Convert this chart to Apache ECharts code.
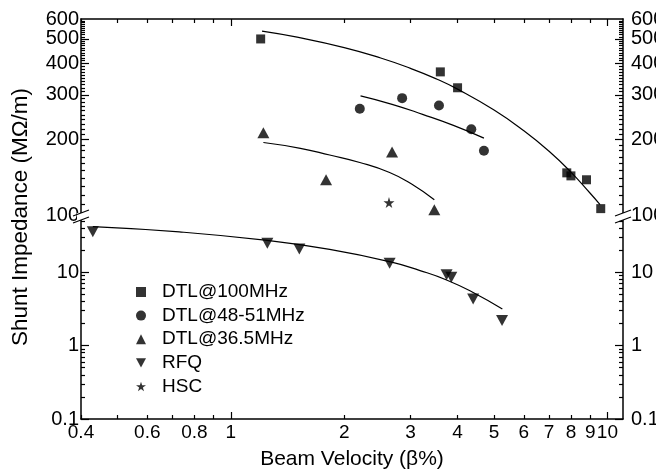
<!DOCTYPE html>
<html>
<head>
<meta charset="utf-8">
<script src="https://cdn.jsdelivr.net/npm/echarts@6/dist/echarts.min.js"></script>
<style>
  html, body { margin: 0; padding: 0; background: #fff; }
  #chart { width: 656px; height: 476px; }
</style>
</head>
<body>
<div id="chart"></div>
<script>
// 测量点：束流速度 (β%) 与分路阻抗 (MΩ/m)
const dtl100X = [1.2, 3.6, 4.0, 7.8, 8.0, 8.8, 9.6];
const dtl100Y = [500, 370, 320, 147, 143, 138, 106];
const dtl48X = [2.2, 2.85, 3.57, 4.35, 4.7];
const dtl48Y = [264, 291, 272, 219, 180];
const dtl36X = [1.22, 1.79, 2.68, 3.47];
const dtl36Y = [212, 138, 178, 105];
const rfqX = [0.43, 1.25, 1.52, 2.64, 3.74, 3.85, 4.4, 5.25];
const rfqY = [35.6, 24.8, 20.7, 13.2, 9.2, 8.5, 4.3, 2.2];
const hscX = [2.63];
const hscY = [112];

// 拟合曲线（沿图中曲线读取的点）
const fit100X = [1.21, 1.5, 2, 2.5, 3, 3.5, 4, 5, 6, 7, 8, 9, 9.56];
const fit100Y = [537, 508, 462, 420, 382, 348, 316, 261, 216, 179, 148, 122, 110];
const fit48X = [2.21, 2.68, 3.23, 3.9, 4.7];
const fit48Y = [297, 275, 251, 227, 202];
const fit36X = [1.22, 1.53, 1.83, 2.2, 2.64, 3.02, 3.47];
const fit36Y = [194, 184, 173, 161.6, 147.5, 132.7, 114.9];
const fitRfqX = [0.43, 0.73, 1.25, 1.83, 2.64, 3.18, 3.74, 4.4, 5.26];
const fitRfqY = [41.7, 35.3, 27.0, 20.4, 13.9, 10.5, 7.83, 5.29, 3.15];

// 坐标轴刻度
const xRange = [0.4, 11];
const xMajorTicks = [1, 10];
const xMinorTicks = [0.4, 0.5, 0.6, 0.7, 0.8, 0.9, 2, 3, 4, 5, 6, 7, 8, 9];
const xTickLabels = [0.4, 0.6, 0.8, 1, 2, 3, 4, 5, 6, 7, 8, 9, 10];
const upperRange = [100, 600];
const upperMajorTicks = [200, 300, 400, 500];
const upperTickLabels = [100, 200, 300, 400, 500, 600];
const lowerRange = [0.1, 60];
const lowerMajorTicks = [0.1, 1, 10];
const lowerMinorTicks = [0.2, 0.3, 0.4, 0.5, 0.6, 0.7, 0.8, 0.9, 2, 3, 4, 5, 6, 7, 8, 9, 20, 30, 40, 50];
const lowerTickLabels = [0.1, 1, 10];

const upperMinorTicks = []
for (let v = 110; v < 600; v += 10) {
  if (v % 100 !== 0) upperMinorTicks.push(v)
}

const FONT = 'Liberation Sans, Arial, Helvetica, sans-serif'
const lg = v => Math.log10(v)
const pts = (xs, ys) => xs.map((x, i) => [lg(x), lg(ys[i])])
const fmt = v => String(+Math.pow(10, v).toPrecision(6))

// 绘图区布局
const plotLeft = 81
const plotRight = 623
const plotTop = 19
const breakY = 215
const plotBottom = 419

const chart = echarts.init(document.getElementById('chart'))

// 生成一根轴：minor 负责轴线+短刻度，major 负责长刻度+标签
const makeAxis = opts => ({
  type: 'value',
  gridIndex: opts.grid,
  position: opts.position,
  min: lg(opts.range[0]),
  max: lg(opts.range[1]),
  splitLine: { show: false },
  axisLine: { show: opts.line, onZero: false, lineStyle: { color: '#000', width: 1.5 } },
  axisTick: {
    show: true,
    inside: true,
    length: opts.tickLen,
    customValues: opts.ticks.map(lg),
    lineStyle: { color: '#000', width: 1.2 }
  },
  axisLabel: opts.labels
    ? {
        show: true,
        customValues: opts.labels.map(lg),
        formatter: fmt,
        color: '#000',
        fontSize: opts.fontSize || 19,
        fontFamily: FONT,
        margin: opts.margin
      }
    : { show: false },
  name: opts.name || '',
  nameLocation: 'middle',
  nameGap: opts.nameGap || 0,
  nameTextStyle: { color: '#000', fontSize: 21, fontFamily: FONT }
})

const xAxis = [
  makeAxis({ grid: 0, position: 'top', range: xRange, line: true, tickLen: 4, ticks: xMinorTicks }),
  makeAxis({ grid: 0, position: 'top', range: xRange, line: false, tickLen: 7, ticks: xMajorTicks }),
  makeAxis({ grid: 1, position: 'bottom', range: xRange, line: true, tickLen: 4, ticks: xMinorTicks }),
  makeAxis({
    grid: 1, position: 'bottom', range: xRange, line: false, tickLen: 7, ticks: xMajorTicks,
    labels: xTickLabels, margin: 4, name: 'Beam Velocity (\u03b2%)', nameGap: 30
  })
]

const yAxis = [
  makeAxis({ grid: 0, position: 'left', range: upperRange, line: true, tickLen: 4, ticks: upperMinorTicks }),
  makeAxis({ grid: 0, position: 'left', range: upperRange, line: false, tickLen: 8, ticks: upperMajorTicks, labels: upperTickLabels, margin: 2, fontSize: 20 }),
  makeAxis({ grid: 0, position: 'right', range: upperRange, line: true, tickLen: 4, ticks: upperMinorTicks }),
  makeAxis({ grid: 0, position: 'right', range: upperRange, line: false, tickLen: 8, ticks: upperMajorTicks, labels: upperTickLabels, margin: 8, fontSize: 20 }),
  makeAxis({ grid: 1, position: 'left', range: lowerRange, line: true, tickLen: 4, ticks: lowerMinorTicks }),
  makeAxis({ grid: 1, position: 'left', range: lowerRange, line: false, tickLen: 8, ticks: lowerMajorTicks, labels: lowerTickLabels, margin: 2, fontSize: 20 }),
  makeAxis({ grid: 1, position: 'right', range: lowerRange, line: true, tickLen: 4, ticks: lowerMinorTicks }),
  makeAxis({ grid: 1, position: 'right', range: lowerRange, line: false, tickLen: 8, ticks: lowerMajorTicks, labels: lowerTickLabels, margin: 8, fontSize: 20 })
]

const starPath = 'path://M50,0 L61,35 L98,35 L68,57 L79,91 L50,70 L21,91 L32,57 L2,35 L39,35 Z'
const downTriangle = 'path://M0,0 L12,0 L6,11 Z'

const scatter = (name, data, symbol, size, upper) => ({
  name,
  type: 'scatter',
  xAxisIndex: upper ? 0 : 2,
  yAxisIndex: upper ? 0 : 4,
  data,
  symbol,
  symbolSize: size,
  itemStyle: { color: '#000' },
  z: 5
})

const fitLine = (name, data, upper) => ({
  name,
  type: 'line',
  xAxisIndex: upper ? 0 : 2,
  yAxisIndex: upper ? 0 : 4,
  data,
  smooth: 0.5,
  showSymbol: false,
  silent: true,
  lineStyle: { color: '#000', width: 1.2 },
  z: 3
})

// 断轴标记
const breakMark = cx => [
  { type: 'rect', shape: { x: cx - 4, y: breakY - 2, width: 8, height: 7 }, style: { fill: '#fff' }, z: 100 },
  { type: 'line', shape: { x1: cx - 8, y1: breakY + 1, x2: cx + 8, y2: breakY - 5 }, style: { stroke: '#000', lineWidth: 1.2 }, z: 101 },
  { type: 'line', shape: { x1: cx - 8, y1: breakY + 8, x2: cx + 8, y2: breakY + 2 }, style: { stroke: '#000', lineWidth: 1.2 }, z: 101 }
]

const option = {
  backgroundColor: '#fff',
  animation: false,
  grid: [
    { left: plotLeft, right: 656 - plotRight, top: plotTop, height: breakY - plotTop, outerBoundsMode: 'none' },
    { left: plotLeft, right: 656 - plotRight, top: breakY, height: plotBottom - breakY, outerBoundsMode: 'none' }
  ],
  xAxis,
  yAxis,
  legend: {
    data: ['DTL@100MHz', 'DTL@48-51MHz', 'DTL@36.5MHz', 'RFQ', 'HSC'],
    orient: 'vertical',
    left: 131,
    top: 277,
    itemWidth: 10,
    itemHeight: 10,
    itemGap: 3.6,
    selectedMode: false,
    textStyle: { color: '#000', fontSize: 19, fontFamily: FONT, lineHeight: 20, padding: [0, 0, 0, 11] }
  },
  graphic: [
    {
      type: 'text',
      x: 21,
      y: 217,
      rotation: Math.PI / 2,
      style: {
        text: 'Shunt Impedance (M\u03a9/m)',
        fill: '#000',
        fontSize: 22.5,
        fontFamily: FONT,
        textAlign: 'center',
        textVerticalAlign: 'middle'
      }
    },
    ...breakMark(plotLeft),
    ...breakMark(plotRight)
  ],
  series: [
    fitLine('fit100', pts(fit100X, fit100Y), true),
    fitLine('fit48', pts(fit48X, fit48Y), true),
    fitLine('fit36', pts(fit36X, fit36Y), true),
    fitLine('fitRfq', pts(fitRfqX, fitRfqY), false),
    scatter('DTL@100MHz', pts(dtl100X, dtl100Y), 'rect', 9, true),
    scatter('DTL@48-51MHz', pts(dtl48X, dtl48Y), 'circle', 10, true),
    scatter('DTL@36.5MHz', pts(dtl36X, dtl36Y), 'triangle', [12, 11], true),
    scatter('RFQ', pts(rfqX, rfqY), downTriangle, [12, 11], false),
    scatter('HSC', pts(hscX, hscY), starPath, 11, true)
  ]
}

chart.setOption(option)
</script>
</body>
</html>
